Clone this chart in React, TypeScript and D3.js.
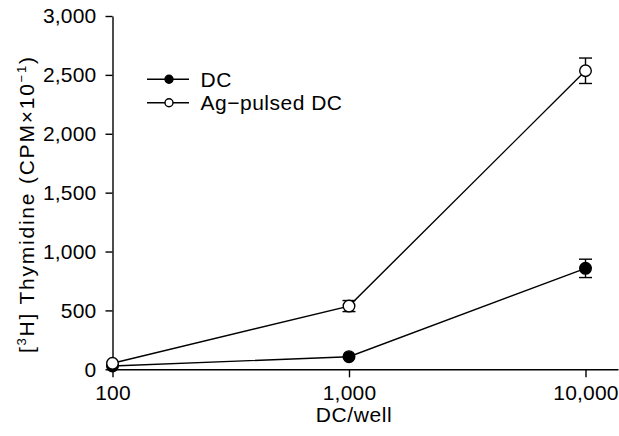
import React, { useRef, useEffect } from 'react';
import * as d3 from 'd3';

const doses = [100, 1000, 10000];
const dcValues = [28, 107, 857];
const dcErrors = [0, 0, 78];
const agValues = [51, 537, 2535];
const agErrors = [0, 47, 108];
const yTicks = [0, 500, 1000, 1500, 2000, 2500, 3000];
const xTicks = [100, 1000, 10000];

const App = () => {
    const ref = useRef<SVGSVGElement>(null);

    useEffect(() => {
        if (!ref.current) return;
        const svg = d3.select(ref.current);
        svg.selectAll('*').remove();

        const W = 619, H = 436;
        const margin = { top: 16, left: 112.5, right: 1, bottom: H - 369.3 };
        const font = "'Liberation Sans', Arial, sans-serif";
        const sw = 1.4;

        // log x: 100 -> 112.5, 10,000 -> 585.5
        const decade = (585.5 - margin.left) / 2;
        const xMax = 10 ** (2 + (W - margin.right - margin.left) / decade);
        const x = d3.scaleLog().domain([100, xMax]).range([margin.left, W - margin.right]);
        const y = d3.scaleLinear().domain([0, 3000]).range([H - margin.bottom, margin.top]);

        const g = svg.append('g').attr('font-family', font);

        // axes
        const yAxis = g.append('g')
            .attr('transform', `translate(${margin.left},0)`)
            .call(d3.axisLeft(y).tickValues(yTicks).tickFormat(d3.format(',')).tickSize(7).tickPadding(9).tickSizeOuter(0));
        const xAxis = g.append('g')
            .attr('transform', `translate(0,${y(0)})`)
            .call(d3.axisBottom(x).tickValues(xTicks).tickFormat(d3.format(',')).tickSize(8).tickPadding(8).tickSizeOuter(0));
        [yAxis, xAxis].forEach(a => {
            a.selectAll('text').attr('font-size', 21).attr('font-family', font).attr('fill', '#000').attr('letter-spacing', 0.2);
            a.selectAll('line, path').attr('stroke', '#000').attr('stroke-width', sw);
        });

        const series = [
            { values: dcValues, errors: dcErrors, fill: '#000' },
            { values: agValues, errors: agErrors, fill: '#fff' },
        ];

        const line = d3.line<number>().x((_, i) => x(doses[i])).y(d => y(d));

        series.forEach(s => {
            g.append('path').datum(s.values).attr('d', line).attr('fill', 'none').attr('stroke', '#000').attr('stroke-width', sw);
            s.values.forEach((v, i) => {
                const e = s.errors[i];
                if (e > 0) {
                    const cx = x(doses[i]);
                    g.append('line').attr('x1', cx).attr('x2', cx).attr('y1', y(v - e)).attr('y2', y(v + e)).attr('stroke', '#000').attr('stroke-width', sw);
                    [v - e, v + e].forEach(c => {
                        g.append('line').attr('x1', cx - 6.5).attr('x2', cx + 6.5).attr('y1', y(c)).attr('y2', y(c)).attr('stroke', '#000').attr('stroke-width', sw);
                    });
                }
            });
        });
        series.forEach(s => {
            s.values.forEach((v, i) => {
                g.append('circle').attr('cx', x(doses[i])).attr('cy', y(v)).attr('r', 5.8)
                    .attr('fill', s.fill).attr('stroke', '#000').attr('stroke-width', sw);
            });
        });

        // legend
        const legend = [
            { label: 'DC', fill: '#000' },
            { label: 'Ag\u2212pulsed DC', fill: '#fff' },
        ];
        legend.forEach((l, i) => {
            const ly = 79.3 + i * 23.4;
            g.append('line').attr('x1', 147).attr('x2', 189).attr('y1', ly).attr('y2', ly).attr('stroke', '#000').attr('stroke-width', sw);
            g.append('circle').attr('cx', 169).attr('cy', ly).attr('r', 4).attr('fill', l.fill).attr('stroke', '#000').attr('stroke-width', sw);
            g.append('text').attr('x', 200.5).attr('y', ly + 7.5).attr('font-size', 21).attr('letter-spacing', 0.5).text(l.label);
        });

        // axis titles
        g.append('text').attr('x', 354).attr('y', 422).attr('text-anchor', 'middle')
            .attr('font-size', 21).attr('letter-spacing', 0.6).text('DC/well');

        const yl = g.append('text').attr('transform', `translate(34,205) rotate(-90)`)
            .attr('text-anchor', 'middle').attr('font-size', 21)
            .attr('textLength', 296).attr('lengthAdjust', 'spacing');
        yl.append('tspan').text('[');
        yl.append('tspan').attr('font-size', 13).attr('dy', -8).text('3');
        yl.append('tspan').attr('dy', 8).text('H] Thymidine (CPM\u00d710');
        yl.append('tspan').attr('font-size', 13).attr('dy', -8).text('\u22121');
        yl.append('tspan').attr('dy', 8).text(')');
    }, []);

    return <svg ref={ref} width={619} height={436} style={{ position: 'absolute', left: 0, top: 0 }} />;
};

export default App;
